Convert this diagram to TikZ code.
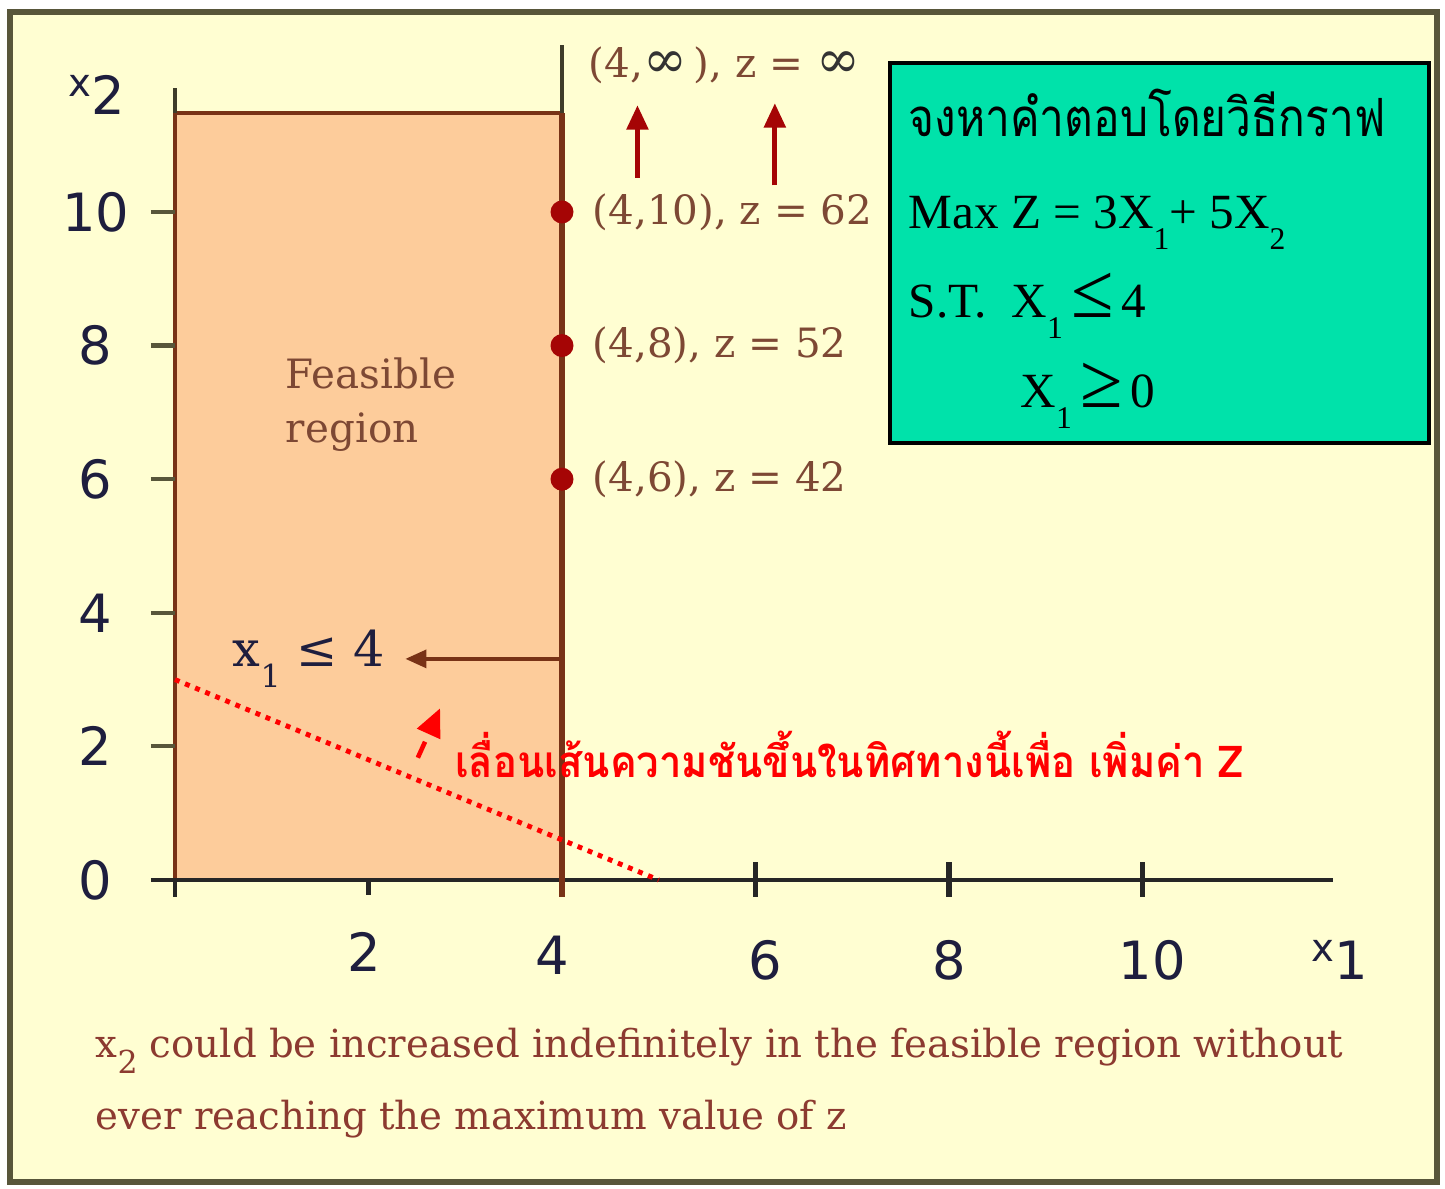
\documentclass[tikz,border=0pt]{standalone}
\usepackage{fontspec}
\usepackage{graphicx}
\usetikzlibrary{arrows.meta}
\newfontfamily\lblfont{DejaVu Serif}
\newfontfamily\numfont{DejaVu Sans}
\newfontfamily\boxfont{Liberation Serif}
\newfontfamily\thaifont[Script=Thai]{Loma}
\definecolor{paper}{RGB}{255,254,210}
\definecolor{frame}{RGB}{88,86,58}
\definecolor{peach}{RGB}{253,204,155}
\definecolor{rim}{RGB}{120,50,22}
\definecolor{ptred}{RGB}{165,5,5}
\definecolor{lblbrown}{RGB}{125,72,52}
\definecolor{navy}{RGB}{30,30,62}
\definecolor{mint}{RGB}{0,226,170}
\definecolor{notered}{RGB}{140,58,48}
\newcommand{\lowsub}[1]{\raisebox{-0.42em}{\fontsize{9}{9}\selectfont #1}}
\newcommand{\bigINF}{{\color{black!80}\fontsize{15}{15}\selectfont ∞}}

\begin{document}
\begin{tikzpicture}[
    num/.style={font=\numfont\fontsize{15}{15}\selectfont, text=navy, inner sep=0pt},
    lbl/.style={font=\lblfont\fontsize{11.5}{11.5}\selectfont, text=lblbrown,
                inner sep=0pt, anchor=west},
    pt/.style={circle, fill=ptred, inner sep=0pt, minimum size=0.23cm},
    arr/.style={-{Triangle[length=7pt,width=6pt]}, line width=1.5pt, ptred},
    boxtxt/.style={font=\boxfont\fontsize{14}{14}\selectfont, anchor=base west,
                   inner sep=0pt},
  ]
  \useasboundingbox (0,0) rectangle (14.45,11.89);
  % paper and frame
  \fill[paper] (0.10,0.07) rectangle (14.37,11.77);
  \draw[frame, line width=1.6pt] (0.10,0.07) rectangle (14.37,11.77);

  \begin{scope}[shift={(1.75,3.09)}, x=0.9675cm, y=0.668cm]
    % feasible region
    \fill[peach] (0,0) rectangle (4,11.48);
    \draw[rim, line width=1.2pt] (0,0) -- (0,11.48) -- (4,11.48);
    \draw[frame!70!black, line width=1.2pt] (0,11.48) -- (0,11.86);

    % axes and ticks
    \draw[black!85, line width=1.4pt] (-0.25,0) -- (11.97,0);
    \draw[rim, line width=1.6pt] (4,-0.25) -- (4,11.48);
    \draw[frame!70!black, line width=1.4pt] (4,11.48) -- (4,12.5);
    \foreach \y in {2,4,...,10}
      \draw[frame, line width=1.2pt] (-0.25,\y) -- (0,\y);
    \draw[black!85, line width=1.4pt] (0,0) -- (0,-0.25);
    \draw[black!85, line width=1.4pt] (2,0) -- (2,-0.22);
    \foreach \x in {6,8,10}
      \draw[black!85, line width=1.6pt] (\x,-0.25) -- (\x,0.27);

    % axis numbers
    \foreach \y in {0,2,...,10}
      \node[num] (ylab\y) at (-0.82,\y) {\y};
    \node[num] (xlab2) at (1.96,-1.08) {2};
    \node[num] (xlab4) at (3.9,-1.13) {4};
    \node[num] (xlab6) at (6.1,-1.2) {6};
    \node[num] (xlab8) at (8,-1.2) {8};
    \node[num] (xlab10) at (10.1,-1.2) {10};
    \node[num] (x2lab) at (-0.81,11.75) {{\fontsize{11}{11}\selectfont x}\raisebox{-0.35em}{2}};
    \node[num] (x1lab) at (12.04,-1.2) {{\fontsize{11}{11}\selectfont x}\raisebox{-0.35em}{1}};

    % corner points on x1 = 4
    \node[pt] (p10) at (4,10) {};
    \node[pt] (p8) at (4,8) {};
    \node[pt] (p6) at (4,6) {};
    \node[lbl] (l10) at (4.31,10) {(4,10), z = 62};
    \node[lbl] (l8) at (4.31,8) {(4,8), z = 52};
    \node[lbl] (l6) at (4.31,6) {(4,6), z = 42};
    \node[lbl] (linf) at (4.27,12.2) {(4,\bigINF\,), z = \bigINF};
    \coordinate (a1s) at (4.78,10.51);
    \coordinate (a1e) at (4.78,11.6);
    \coordinate (a2s) at (6.2,10.4);
    \coordinate (a2e) at (6.2,11.63);
    \draw[arr] (a1s) -- (a1e);
    \draw[arr] (a2s) -- (a2e);

    % region text and constraint
    \node[lbl, align=left, font=\lblfont\fontsize{11.5}{15.4}\selectfont]
      (feas) at (1.14,7.11) {Feasible\\region};
    \node[font=\lblfont\fontsize{14}{14}\selectfont, text=navy, anchor=east,
          inner ysep=0pt, inner xsep=0.2cm] (lim) at (2.38,3.31) {x\lowsub{1} ≤ 4};
    \coordinate (bnd) at (4,3.31);
    \draw[rim, line width=1.2pt, -{Triangle[length=6pt,width=5pt]}] (bnd) -- (lim.east);

    % objective line and direction
    \coordinate (o1) at (0,3);
    \coordinate (o2) at (5,0);
    \draw[red, line width=1.4pt, dash pattern=on 1.4pt off 1.7pt] (o1) -- (o2);
    \coordinate (d1) at (2.51,1.83);
    \coordinate (d2) at (2.74,2.57);
    \draw[red, line width=1.3pt, dash pattern=on 5pt off 4pt,
          -{Triangle[length=8pt,width=7pt]}] (d1) -- (d2);
    \node[font=\thaifont\bfseries\fontsize{12.5}{12.5}\selectfont, text=red,
          anchor=west, inner sep=0pt] (move) at (2.89,1.88)
      {\scalebox{0.91}[1]{เลื่อนเส้นความชันขึ้นในทิศทางนี้เพื่อ เพิ่มค่า Z}};
  \end{scope}

  % problem box
  \node[draw=black, line width=1pt, fill=mint, minimum width=5.39cm,
        minimum height=3.80cm, inner sep=0pt, anchor=south west] (cons) at (8.88,7.44) {};
  \node[boxtxt, font=\thaifont\fontsize{15}{15}\selectfont] (title) at (9.08,10.52)
    {\scalebox{0.84}[1]{จงหาคำตอบโดยวิธีกราฟ}};
  \node[boxtxt] (obj) at (9.08,9.60) {Max Z = 3X\lowsub{1}+ 5X\lowsub{2}};
  \node[boxtxt] (st1) at (9.08,8.71)
    {S.T.\hspace{0.5em}X\lowsub{1}\,{\fontsize{22}{22}\selectfont ≤}\,4};
  \node[boxtxt] (st2) at (10.20,7.81)
    {X\lowsub{1}\,{\fontsize{22}{22}\selectfont ≥}\,0};

  % note
  \node[font=\lblfont\fontsize{11}{20.7}\selectfont, text=notered, align=left,
        anchor=west, inner sep=0pt] (note) at (0.95,1.06)
    {x\lowsub{2} could be increased indefinitely in the feasible region without\\
     ever reaching the maximum value of z};
\end{tikzpicture}
\end{document}
